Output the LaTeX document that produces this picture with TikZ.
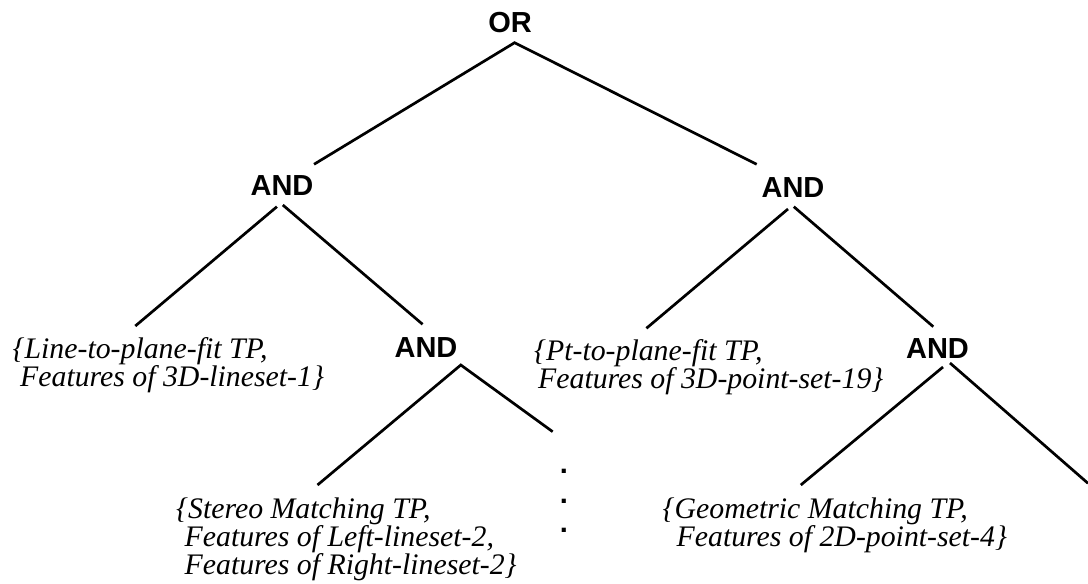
\documentclass[tikz,border=0pt]{standalone}
\usepackage{fontspec}
\setmainfont{Liberation Serif}
\newfontfamily\gatefont{Liberation Sans}
\begin{document}
\begin{tikzpicture}[x=1pt,y=-1pt,
  gate/.style={font=\gatefont\bfseries\fontsize{29}{29.5}\selectfont, inner sep=0pt, anchor=base},
  leaf/.style={font=\itshape\fontsize{29.8}{28}\selectfont, inner sep=0pt, anchor=base west},
  edge/.style={line width=2.7pt, line join=miter}]
\useasboundingbox (0,0) rectangle (1088,584);
% gates
\node[gate] (or)    at (510,32)      {OR};
\node[gate] (andL)  at (282,195.5)   {AND};
\node[gate] (andR)  at (793,197)     {AND};
\node[gate] (andLL) at (426,357)     {AND};
\node[gate] (andRR) at (937.5,358.5) {AND};
\node[gate] (dots)  at (564,473.7)   {\vtop{\hbox{.}\hbox{.}\hbox{.}}};
% leaves
\node[leaf] (t1) at (12.5,358.3) {\vtop{\hbox{\{Line-to-plane-fit TP,}\hbox{\hspace*{7.5pt}Features of 3D-lineset-1\}}}};
\node[leaf] (t2) at (534,360) {\vtop{\hbox{\{Pt-to-plane-fit TP,}\hbox{\hspace*{4pt}Features of 3D-point-set-19\}}}};
\node[leaf] (t3) at (176,518.3) {\vtop{\hbox{\{Stereo Matching TP,}\hbox{\hspace*{8.5pt}Features of Left-lineset-2,}\hbox{\hspace*{8.5pt}Features of Right-lineset-2\}}}};
\node[leaf] (t4) at (662.5,518.3) {\vtop{\hbox{\{Geometric Matching TP,}\hbox{\hspace*{14pt}Features of 2D-point-set-4\}}}};
\coordinate (offR) at (1088,483.3);
% connectors
\draw[edge] ([shift={(32,-31.2)}]andL.base) -- ([shift={(4.6,10.7)}]or.base) -- ([shift={(-36.3,-32.7)}]andR.base);
\draw[edge] ([shift={(-5.1,11.2)}]andL.base) -- ([shift={(122.8,-32.3)}]t1.base west);
\draw[edge] ([shift={(0.8,9.5)}]andL.base) -- ([shift={(-3.4,-32.7)}]andLL.base);
\draw[edge] ([shift={(-5,12)}]andR.base) -- ([shift={(112.4,-31.7)}]t2.base west);
\draw[edge] ([shift={(0.8,9.7)}]andR.base) -- ([shift={(-4.2,-31.8)}]andRR.base);
\draw[edge] ([shift={(141.5,-33.3)}]t3.base west) -- ([shift={(34.8,8)}]andLL.base) -- ([shift={(-11.3,-42)}]dots.base);
\draw[edge] ([shift={(5.5,8.5)}]andRR.base) -- ([shift={(138.3,-33.3)}]t4.base west);
\draw[edge] ([shift={(12.5,4.5)}]andRR.base) -- (offR);
\end{tikzpicture}
\end{document}
